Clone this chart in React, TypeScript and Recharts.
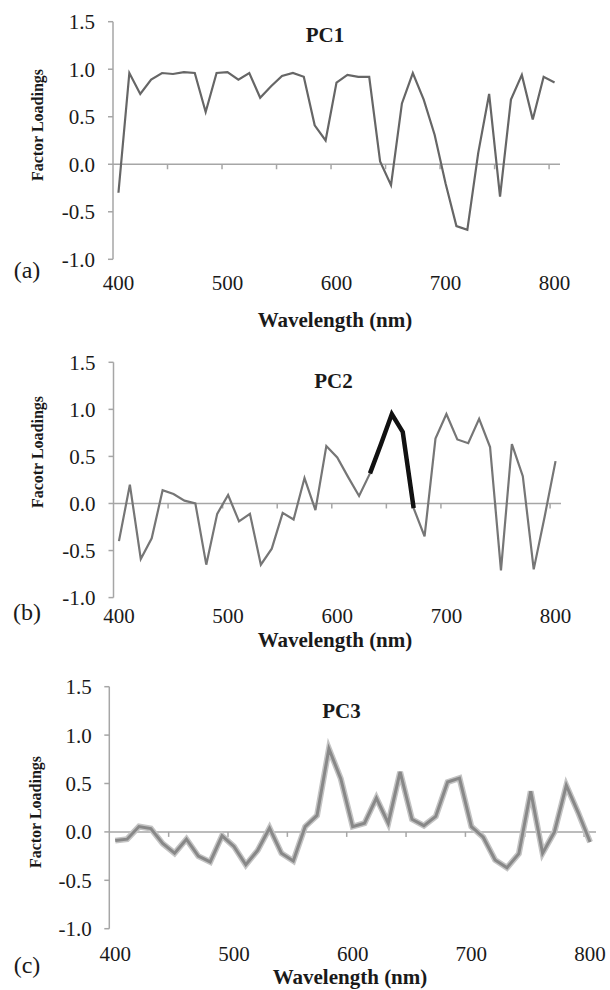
import { LineChart, Line, XAxis, YAxis, ReferenceLine } from "recharts";

// wavelength categories (nm)
const wavelengths = [
  400, 410, 420, 430, 440, 450, 460, 470, 480, 490, 500, 510, 520, 530, 540,
  550, 560, 570, 580, 590, 600, 610, 620, 630, 640, 650, 660, 670, 680, 690,
  700, 710, 720, 730, 740, 750, 760, 770, 780, 790, 800,
];

const pc1 = [
  -0.3, 0.96, 0.74, 0.89, 0.96, 0.95, 0.97, 0.96, 0.55, 0.96, 0.97, 0.89,
  0.96, 0.7, 0.82, 0.93, 0.96, 0.92, 0.41, 0.25, 0.86, 0.94, 0.92, 0.92, 0.03,
  -0.22, 0.64, 0.96, 0.68, 0.31, -0.2, -0.65, -0.69, 0.12, 0.74, -0.34, 0.68,
  0.94, 0.47, 0.92, 0.86,
];

const pc2 = [
  -0.4, 0.2, -0.59, -0.37, 0.14, 0.1, 0.03, 0.0, -0.65, -0.11, 0.09, -0.19,
  -0.11, -0.65, -0.48, -0.1, -0.17, 0.27, -0.07, 0.61, 0.49, 0.28, 0.08, 0.32,
  0.63, 0.95, 0.76, -0.05, -0.35, 0.69, 0.95, 0.68, 0.64, 0.9, 0.6, -0.71,
  0.63, 0.29, -0.7, -0.14, 0.45,
];

// the band drawn in black on PC2
const pc2HighlightFrom = 630;
const pc2HighlightTo = 670;

const pc3 = [
  -0.09, -0.075, 0.055, 0.034, -0.12, -0.22, -0.075, -0.25, -0.31, -0.04,
  -0.15, -0.34, -0.19, 0.04, -0.22, -0.3, 0.055, 0.17, 0.86, 0.55, 0.055,
  0.09, 0.35, 0.09, 0.62, 0.13, 0.065, 0.16, 0.515, 0.555, 0.055, -0.055,
  -0.29, -0.37, -0.225, 0.42, -0.22, 0.0, 0.48, 0.2, -0.105,
];

const xLabelTicks = [400, 500, 600, 700, 800];
const xMarkTicks = [445, 495, 545, 595, 645, 695, 745, 795];
const yTicks = [-1, -0.5, 0, 0.5, 1, 1.5];

const data = wavelengths.map((w, i) => ({
  w,
  pc1: pc1[i],
  pc2: pc2[i],
  pc2hi: w >= pc2HighlightFrom && w <= pc2HighlightTo ? pc2[i] : null,
  pc3: pc3[i],
}));

const SERIF = "Liberation Serif";
const AXIS = "#a6a6a6";
const TEXT = "#1a1a1a";
const X_AXIS_H = 40;

const tickStyle = {
  fontFamily: SERIF,
  fontSize: 21,
  fill: TEXT,
  style: { fontFamily: SERIF },
};

type Box = { left: number; right: number; top: number; bottom: number };

function Panel({
  regionTop,
  regionHeight,
  plot,
  labelGap,
  yMargin,
  children,
}: {
  regionTop: number;
  regionHeight: number;
  plot: Box;
  labelGap: number;
  yMargin: number;
  children: React.ReactNode;
}) {
  const bottomMargin = regionTop + regionHeight - plot.bottom - X_AXIS_H;
  const unitPx = (plot.bottom - plot.top) / 2.5;
  const markLen = 5 / unitPx;
  return (
    <div style={{ position: "absolute", left: 0, top: regionTop }}>
      <LineChart
        width={610}
        height={regionHeight}
        data={data}
        margin={{
          top: plot.top - regionTop,
          right: 610 - plot.right,
          bottom: bottomMargin,
          left: 0,
        }}
      >
        <XAxis
          dataKey="w"
          type="number"
          domain={[395, 805]}
          allowDataOverflow
          ticks={xLabelTicks}
          interval={0}
          axisLine={false}
          tickLine={false}
          tickSize={0}
          tickMargin={labelGap}
          height={X_AXIS_H}
          tick={tickStyle}
        />
        <YAxis
          type="number"
          domain={[-1, 1.5]}
          allowDataOverflow
          ticks={yTicks}
          interval={0}
          width={plot.left}
          axisLine={{ stroke: AXIS, strokeWidth: 1.5 }}
          tickLine={{ stroke: AXIS, strokeWidth: 1.5 }}
          tickSize={5}
          tickMargin={yMargin}
          tickFormatter={(v: number) => v.toFixed(1)}
          tick={tickStyle}
        />
        <ReferenceLine y={0} stroke={AXIS} strokeWidth={1.5} />
        {xMarkTicks.map((t) => (
          <ReferenceLine
            key={t}
            segment={[
              { x: t, y: 0 },
              { x: t, y: -markLen },
            ]}
            stroke={AXIS}
            strokeWidth={1.5}
          />
        ))}
        {children}
      </LineChart>
    </div>
  );
}

function Txt({
  x,
  y,
  size,
  bold,
  rotate,
  children,
}: {
  x: number;
  y: number;
  size: number;
  bold?: boolean;
  rotate?: boolean;
  children: React.ReactNode;
}) {
  return (
    <div
      style={{
        position: "absolute",
        left: x,
        top: y,
        transform: `translate(-50%, -50%)${rotate ? " rotate(-90deg)" : ""}`,
        fontFamily: SERIF,
        fontSize: size,
        fontWeight: bold ? "bold" : "normal",
        color: TEXT,
        whiteSpace: "nowrap",
        lineHeight: 1,
      }}
    >
      {children}
    </div>
  );
}

export default function App() {
  return (
    <div
      style={{
        position: "absolute",
        left: 0,
        top: 0,
        width: 610,
        height: 990,
        background: "#fff",
      }}
    >
      <Panel
        regionTop={0}
        regionHeight={330}
        plot={{ left: 113, right: 560, top: 21.7, bottom: 259.3 }}
        labelGap={16}
        yMargin={13}
      >
        <Line
          type="linear"
          dataKey="pc1"
          stroke="#666666"
          strokeWidth={2.2}
          dot={false}
          isAnimationActive={false}
        />
      </Panel>
      <Panel
        regionTop={330}
        regionHeight={330}
        plot={{ left: 113.5, right: 561, top: 362.3, bottom: 597.6 }}
        labelGap={10}
        yMargin={13}
      >
        <Line
          type="linear"
          dataKey="pc2"
          stroke="#767676"
          strokeWidth={2.2}
          dot={false}
          isAnimationActive={false}
        />
        <Line
          type="linear"
          dataKey="pc2hi"
          stroke="#111"
          strokeWidth={4.5}
          dot={false}
          connectNulls={false}
          isAnimationActive={false}
        />
      </Panel>
      <Panel
        regionTop={660}
        regionHeight={330}
        plot={{ left: 109.3, right: 596, top: 686.7, bottom: 928.7 }}
        labelGap={17}
        yMargin={12.5}
      >
        <Line
          type="linear"
          dataKey="pc3"
          stroke="#c4c4c4"
          strokeWidth={6}
          dot={false}
          isAnimationActive={false}
        />
        <Line
          type="linear"
          dataKey="pc3"
          stroke="#888888"
          strokeWidth={3}
          dot={false}
          isAnimationActive={false}
        />
      </Panel>

      <Txt x={325} y={35} size={21} bold>PC1</Txt>
      <Txt x={38} y={124.5} size={16} bold rotate>Factor Loadings</Txt>
      <Txt x={335} y={320} size={21} bold>Wavelength (nm)</Txt>
      <Txt x={27} y={270} size={24}>(a)</Txt>

      <Txt x={333.5} y={381} size={21} bold>PC2</Txt>
      <Txt x={38} y={452} size={16} bold rotate>Facotr Loadings</Txt>
      <Txt x={335} y={640} size={21} bold>Wavelength (nm)</Txt>
      <Txt x={27} y={612} size={24}>(b)</Txt>

      <Txt x={341.5} y={711} size={21} bold>PC3</Txt>
      <Txt x={36} y={812} size={16} bold rotate>Factor Loadings</Txt>
      <Txt x={350} y={977} size={21} bold>Wavelength (nm)</Txt>
      <Txt x={27} y={965} size={24}>(c)</Txt>
    </div>
  );
}
